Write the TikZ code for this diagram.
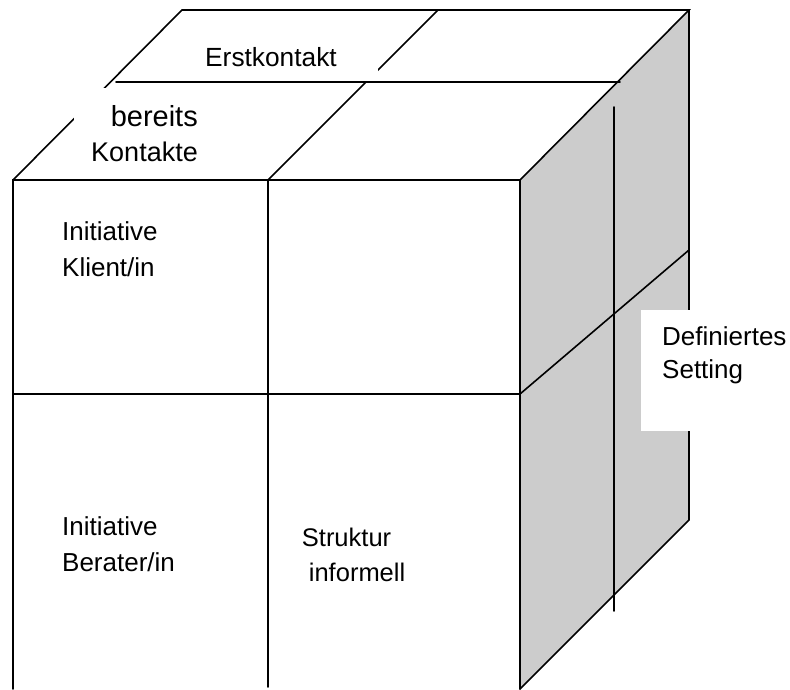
\documentclass[tikz,border=0pt]{standalone}
\usepackage{fontspec}
\setmainfont{Liberation Sans}
\begin{document}
\begin{tikzpicture}[x=1pt,y=-1pt,
  edge/.style={line width=1.6pt, line cap=round},
  lbl/.style={inner sep=0pt, anchor=base west, align=left},
  wbox/.style={fill=white, draw=none}]
\useasboundingbox (0,0) rectangle (790,689);
% corners
\coordinate (ftl) at (13,180);
\coordinate (fml) at (13,394);
\coordinate (fbl) at (13,689);
\coordinate (ftm) at (268,180);
\coordinate (fbm) at (268,687);
\coordinate (ftr) at (520,180);
\coordinate (fmr) at (520,394);
\coordinate (fbr) at (520,689);
\coordinate (btl) at (182,10);
\coordinate (btm) at (438,10);
\coordinate (btr) at (689,10);
\coordinate (bmr) at (689,250);
\coordinate (bbr) at (689,520);
\coordinate (tml) at (116,82);
\coordinate (tmr) at (620,82);
\coordinate (rvt) at (614,107);
\coordinate (rvb) at (614,611);
% right face
\fill[gray!40] (ftr) -- (btr) -- (bbr) -- (fbr) -- cycle;
% front face
\draw[edge] (fbl) -- (ftl) -- (ftr) -- (fbr);
\draw[edge] (fml) -- (fmr);
\draw[edge] (ftm) -- (fbm);
% top face
\draw[edge] (ftl) -- (btl) -- (btr) -- (ftr);
\draw[edge] (ftm) -- (btm);
% right face lines
\draw[edge] (btr) -- (bbr) -- (fbr);
\draw[edge] (fmr) -- (bmr);
\draw[edge] (rvt) -- (rvb);
% white boxes with labels
\fill[wbox] (74,88) rectangle (222,172);
\fill[wbox] (195,40) rectangle (378,83);
\fill[wbox] (641,310) rectangle (790,431);
\draw[edge] (tml) -- (tmr);
\node[lbl, font={\fontsize{26.3}{30}\selectfont}] (erst) at (205,66) {Erstkontakt};
\node[inner sep=0pt, anchor=base east, align=right, font={\fontsize{27}{35.7}\selectfont}] (bereits) at (198,161.7)
  {{\fontsize{29}{35.7}\selectfont bereits}\\Kontakte};
\node[lbl, font={\fontsize{26}{36}\selectfont}] (klient) at (62,276.7) {Initiative\\Klient/in};
\node[lbl, font={\fontsize{26}{36.7}\selectfont}] (berater) at (62,571.7) {Initiative\\Berater/in};
\node[lbl, font={\fontsize{25.5}{34.3}\selectfont}] (struktur) at (301.7,581) {Struktur\\\hspace*{7pt}informell};
\node[lbl, font={\fontsize{26}{33.3}\selectfont}] (setting) at (662,378.3) {Definiertes\\Setting};
\end{tikzpicture}
\end{document}
